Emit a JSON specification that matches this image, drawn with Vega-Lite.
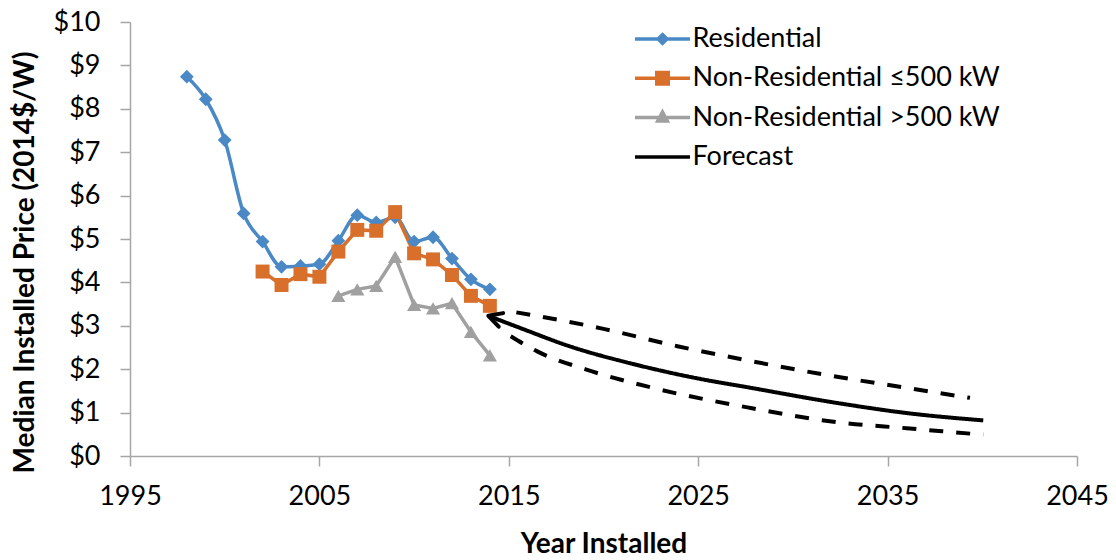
{
  "$schema": "https://vega.github.io/schema/vega-lite/v6.json",
  "autosize": "none",
  "width": 947,
  "height": 434,
  "padding": {"left": 130, "top": 22, "right": 39, "bottom": 104},
  "background": "white",
  "config": {
    "view": {"stroke": null},
    "font": "Lato",
    "axis": {
      "grid": false,
      "domainColor": "#A6A6A6",
      "domainWidth": 1.5,
      "tickColor": "#A6A6A6",
      "tickWidth": 1.5,
      "tickSize": 10,
      "labelFont": "Lato",
      "labelFontSize": 27,
      "labelColor": "#000000",
      "titleFont": "Lato",
      "titleFontSize": 28,
      "titleFontWeight": "bold",
      "titleColor": "#000000"
    }
  },
  "datasets": {
    "hist": [
      {"series": "Residential", "year": 1998, "price": 8.74},
      {"series": "Residential", "year": 1999, "price": 8.22},
      {"series": "Residential", "year": 2000, "price": 7.28},
      {"series": "Residential", "year": 2001, "price": 5.59},
      {"series": "Residential", "year": 2002, "price": 4.94},
      {"series": "Residential", "year": 2003, "price": 4.36},
      {"series": "Residential", "year": 2004, "price": 4.38},
      {"series": "Residential", "year": 2005, "price": 4.42},
      {"series": "Residential", "year": 2006, "price": 4.96},
      {"series": "Residential", "year": 2007, "price": 5.55},
      {"series": "Residential", "year": 2008, "price": 5.38},
      {"series": "Residential", "year": 2009, "price": 5.5},
      {"series": "Residential", "year": 2010, "price": 4.94},
      {"series": "Residential", "year": 2011, "price": 5.04},
      {"series": "Residential", "year": 2012, "price": 4.55},
      {"series": "Residential", "year": 2013, "price": 4.07},
      {"series": "Residential", "year": 2014, "price": 3.84},
      {"series": "Non-Residential ≤500 kW", "year": 2002, "price": 4.25},
      {"series": "Non-Residential ≤500 kW", "year": 2003, "price": 3.94},
      {"series": "Non-Residential ≤500 kW", "year": 2004, "price": 4.19},
      {"series": "Non-Residential ≤500 kW", "year": 2005, "price": 4.13},
      {"series": "Non-Residential ≤500 kW", "year": 2006, "price": 4.71},
      {"series": "Non-Residential ≤500 kW", "year": 2007, "price": 5.21},
      {"series": "Non-Residential ≤500 kW", "year": 2008, "price": 5.19},
      {"series": "Non-Residential ≤500 kW", "year": 2009, "price": 5.62},
      {"series": "Non-Residential ≤500 kW", "year": 2010, "price": 4.67},
      {"series": "Non-Residential ≤500 kW", "year": 2011, "price": 4.53},
      {"series": "Non-Residential ≤500 kW", "year": 2012, "price": 4.17},
      {"series": "Non-Residential ≤500 kW", "year": 2013, "price": 3.69},
      {"series": "Non-Residential ≤500 kW", "year": 2014, "price": 3.46},
      {"series": "Non-Residential >500 kW", "year": 2006, "price": 3.69},
      {"series": "Non-Residential >500 kW", "year": 2007, "price": 3.84},
      {"series": "Non-Residential >500 kW", "year": 2008, "price": 3.92},
      {"series": "Non-Residential >500 kW", "year": 2009, "price": 4.59},
      {"series": "Non-Residential >500 kW", "year": 2010, "price": 3.48},
      {"series": "Non-Residential >500 kW", "year": 2011, "price": 3.4},
      {"series": "Non-Residential >500 kW", "year": 2012, "price": 3.52},
      {"series": "Non-Residential >500 kW", "year": 2013, "price": 2.86},
      {"series": "Non-Residential >500 kW", "year": 2014, "price": 2.32}
    ],
    "forecast": [
      {"series": "Forecast", "band": "mid", "year": 2013.92, "price": 3.23},
      {"series": "Forecast", "band": "mid", "year": 2015.6, "price": 2.95},
      {"series": "Forecast", "band": "mid", "year": 2018.2, "price": 2.53},
      {"series": "Forecast", "band": "mid", "year": 2021.75, "price": 2.1},
      {"series": "Forecast", "band": "mid", "year": 2025.3, "price": 1.76},
      {"series": "Forecast", "band": "mid", "year": 2027.4, "price": 1.6},
      {"series": "Forecast", "band": "mid", "year": 2032.5, "price": 1.21},
      {"series": "Forecast", "band": "mid", "year": 2036.0, "price": 0.99},
      {"series": "Forecast", "band": "mid", "year": 2040.05, "price": 0.82},
      {"series": "Forecast", "band": "upper", "year": 2015.4, "price": 3.31},
      {"series": "Forecast", "band": "upper", "year": 2020.0, "price": 2.93},
      {"series": "Forecast", "band": "upper", "year": 2023.9, "price": 2.53},
      {"series": "Forecast", "band": "upper", "year": 2027.4, "price": 2.22},
      {"series": "Forecast", "band": "upper", "year": 2031.6, "price": 1.88},
      {"series": "Forecast", "band": "upper", "year": 2036.0, "price": 1.57},
      {"series": "Forecast", "band": "upper", "year": 2039.35, "price": 1.34},
      {"series": "Forecast", "band": "lower", "year": 2015.1, "price": 2.76},
      {"series": "Forecast", "band": "lower", "year": 2016.5, "price": 2.41},
      {"series": "Forecast", "band": "lower", "year": 2019.1, "price": 1.99},
      {"series": "Forecast", "band": "lower", "year": 2022.6, "price": 1.57},
      {"series": "Forecast", "band": "lower", "year": 2027.6, "price": 1.12},
      {"series": "Forecast", "band": "lower", "year": 2032.5, "price": 0.77},
      {"series": "Forecast", "band": "lower", "year": 2036.0, "price": 0.64},
      {"series": "Forecast", "band": "lower", "year": 2040.05, "price": 0.49}
    ],
    "arrow": [
      {"series": "Forecast", "year": 2013.92, "price": 3.23}
    ]
  },
  "encoding": {
    "x": {
      "field": "year", "type": "quantitative",
      "scale": {"domain": [1995, 2045], "nice": false, "zero": false},
      "axis": {
        "title": "Year Installed",
        "values": [1995, 2005, 2015, 2025, 2035, 2045],
        "format": "d",
        "labelPadding": 17,
        "titlePadding": 21,
        "labelFlush": false
      }
    },
    "y": {
      "field": "price", "type": "quantitative",
      "scale": {"domain": [0, 10], "nice": false},
      "axis": {
        "title": "Median Installed Price (2014$/W)",
        "values": [0, 1, 2, 3, 4, 5, 6, 7, 8, 9, 10],
        "labelExpr": "'$' + datum.value",
        "labelPadding": 20,
        "titlePadding": 14,
        "titleY": 240
      }
    }
  },
  "layer": [
    {
      "data": {"name": "hist"},
      "transform": [{"filter": "datum.series === 'Residential'"}],
      "mark": {"type": "line", "interpolate": "monotone", "strokeWidth": 3.5},
      "encoding": {
        "color": {
          "field": "series", "type": "nominal",
          "scale": {
            "domain": ["Residential", "Non-Residential ≤500 kW", "Non-Residential >500 kW", "Forecast"],
            "range": ["#4A89C6", "#D86F2B", "#A0A0A0", "#000000"]
          },
          "legend": {
            "title": null,
            "orient": "none",
            "legendX": 519,
            "legendY": 3.5,
            "padding": 0,
            "symbolSize": 400,
            "symbolStrokeWidth": 3.5,
            "labelFont": "Lato",
            "labelFontSize": 27,
            "labelColor": "#000000",
            "labelOffset": 16.5,
            "labelLimit": 500,
            "rowPadding": 11.3,
            "encode": {
              "symbols": {
                "update": {
                  "shape": {"signal": "datum.value === 'Residential' ? 'M-2.75,0L2.75,0M0,-0.44L0.44,0L0,0.44L-0.44,0Z' : datum.value === 'Forecast' ? 'M-2.75,0L2.75,0' : indexof(datum.value, '>') >= 0 ? 'M-2.75,0L2.75,0M0,-0.55L0.475,0.35L-0.475,0.35Z' : 'M-2.75,0L2.75,0M-0.575,-0.575L0.575,-0.575L0.575,0.575L-0.575,0.575Z'"},
                  "fill": {"signal": "datum.value === 'Residential' ? '#4A89C6' : datum.value === 'Forecast' ? 'transparent' : indexof(datum.value, '>') >= 0 ? '#A0A0A0' : '#D86F2B'"},
                  "stroke": {"signal": "datum.value === 'Residential' ? '#4A89C6' : datum.value === 'Forecast' ? '#000000' : indexof(datum.value, '>') >= 0 ? '#A0A0A0' : '#D86F2B'"},
                  "strokeWidth": {"value": 3.5},
                  "opacity": {"value": 1}
                }
              }
            }
          }
        }
      }
    },
    {
      "data": {"name": "hist"},
      "transform": [{"filter": "datum.series !== 'Residential'"}],
      "mark": {"type": "line", "interpolate": "linear", "strokeWidth": 3.5},
      "encoding": {
        "color": {"field": "series", "type": "nominal", "legend": null}
      }
    },
    {
      "data": {"name": "hist"},
      "mark": {"type": "point", "filled": true, "opacity": 1},
      "encoding": {
        "color": {"field": "series", "type": "nominal", "legend": null},
        "shape": {
          "field": "series", "type": "nominal",
          "scale": {
            "domain": ["Residential", "Non-Residential ≤500 kW", "Non-Residential >500 kW"],
            "range": ["diamond", "square", "triangle-up"]
          },
          "legend": null
        },
        "size": {
          "field": "series", "type": "nominal",
          "scale": {
            "domain": ["Residential", "Non-Residential ≤500 kW", "Non-Residential >500 kW"],
            "range": [190, 200, 190]
          },
          "legend": null
        }
      }
    },
    {
      "data": {"name": "forecast"},
      "mark": {"type": "line", "interpolate": "monotone", "strokeWidth": 4, "strokeCap": "butt"},
      "encoding": {
        "color": {"field": "series", "type": "nominal", "legend": null},
        "detail": {"field": "band", "type": "nominal"},
        "strokeDash": {
          "field": "band", "type": "nominal",
          "scale": {"domain": ["mid", "upper", "lower"], "range": [[1, 0], [14, 13], [14, 13]]},
          "legend": null
        }
      }
    },
    {
      "data": {"name": "arrow"},
      "mark": {
        "type": "point",
        "shape": "M1,-0.54L0,0L1,0.54",
        "size": 700,
        "angle": 18,
        "filled": false,
        "stroke": "#000000",
        "strokeWidth": 4,
        "strokeJoin": "round",
        "strokeCap": "round",
        "opacity": 1
      },
      "encoding": {}
    }
  ]
}
